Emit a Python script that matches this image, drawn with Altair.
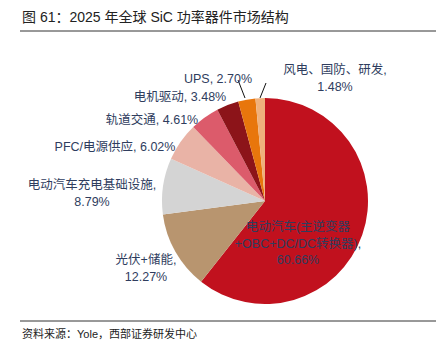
import altair as alt
import pandas as pd

# ---- data ----
categories = ["电动汽车(主逆变器+OBC+DC/DC转换器)", "光伏+储能", "电动汽车充电基础设施",
              "PFC/电源供应", "轨道交通", "电机驱动", "UPS", "风电、国防、研发"]
shares = [60.66, 12.27, 8.79, 6.02, 4.61, 3.48, 2.70, 1.48]
label_texts = ["电动汽车(主逆变器\n+OBC+DC/DC转换器),\n60.66%", "光伏+储能,\n12.27%",
               "电动汽车充电基础设施,\n8.79%", "PFC/电源供应, 6.02%", "轨道交通, 4.61%",
               "电机驱动, 3.48%", "UPS, 2.70%", "风电、国防、研发,\n1.48%"]
colors = ["#C1111E", "#B8956F", "#D4D4D4", "#E9B3A6", "#DC5B6B", "#8C1419", "#E8760C", "#EFB07C"]

# ---- layout (annotation positions, pixels) ----
label_x = [298, 146, 92, 115, 152, 180, 218, 335]
label_y = [227, 260, 185, 147, 120, 97, 79, 70]
leader_lines = [(245, 98, 238, 80), (260, 98, 266, 83)]

W, H = 444, 350
CX, CY, R = 265, 201, 103
FONT = "Liberation Sans, Noto Sans CJK SC, sans-serif"
TXT = "#2F3D5E"

df = pd.DataFrame({"cat": categories, "share": shares,
                   "order": list(range(len(categories)))})

pie = alt.Chart(df).mark_arc(outerRadius=R, stroke=None).encode(
    theta=alt.Theta("share:Q", stack=True),
    order=alt.Order("order:Q"),
    color=alt.Color("cat:N", scale=alt.Scale(domain=categories, range=colors), legend=None),
    x=alt.value(CX), y=alt.value(CY),
)

lab_df = pd.DataFrame({"t": label_texts, "lx": label_x, "ly": label_y})
labels = alt.Chart(lab_df).mark_text(
    font=FONT, fontSize=12.5, color=TXT, lineBreak="\n", align="center",
    baseline="middle", lineHeight=16.5,
).encode(
    x=alt.X("lx:Q", scale=None), y=alt.Y("ly:Q", scale=None), text="t:N"
)

ll_df = pd.DataFrame(leader_lines, columns=["x1", "y1", "x2", "y2"])
leaders = alt.Chart(ll_df).mark_rule(color="#111111", strokeWidth=1).encode(
    x=alt.X("x1:Q", scale=None), y=alt.Y("y1:Q", scale=None),
    x2="x2:Q", y2="y2:Q",
)

rules_df = pd.DataFrame({"x1": [20, 20], "x2": [436, 436], "y": [31, 321]})
rules = alt.Chart(rules_df).mark_rule(color="#333333", strokeWidth=1).encode(
    x=alt.X("x1:Q", scale=None), x2="x2:Q", y=alt.Y("y:Q", scale=None)
)

title = alt.Chart(pd.DataFrame({"t": ["图 61：2025 年全球 SiC 功率器件市场结构"]})).mark_text(
    font=FONT, fontSize=14, color="#222222", align="left", baseline="middle"
).encode(x=alt.value(22), y=alt.value(18), text="t:N")

foot = alt.Chart(pd.DataFrame({"t": ["资料来源：Yole，西部证券研发中心"]})).mark_text(
    font=FONT, fontSize=11, color="#222222", align="left", baseline="middle"
).encode(x=alt.value(22), y=alt.value(335), text="t:N")

chart = alt.layer(pie, leaders, labels, rules, title, foot).properties(
    width=W, height=H, autosize=alt.AutoSizeParams(type="none"), padding=0,
    background="white",
).configure_view(stroke=None)

chart.save("out.html", embed_options={"renderer": "svg", "actions": False})
